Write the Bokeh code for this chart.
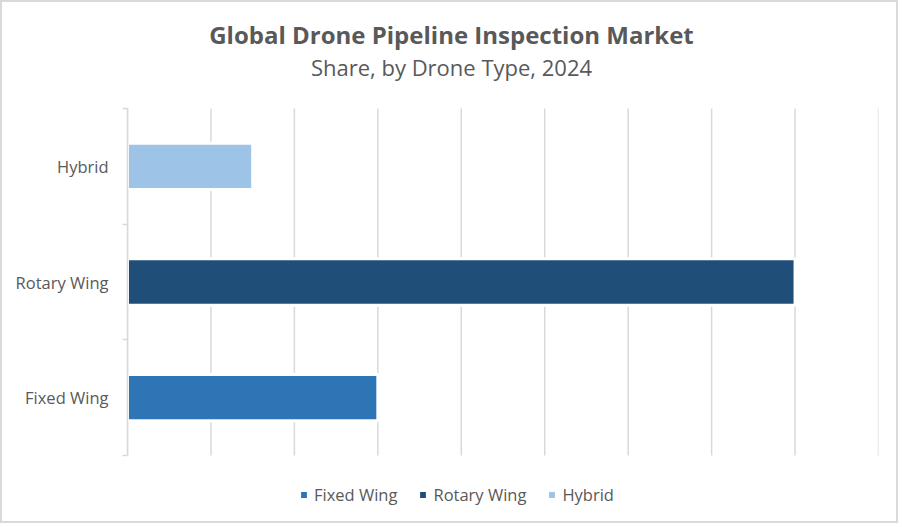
from bokeh.plotting import figure
from bokeh.models import Range1d, FixedTicker, Legend, LegendItem, Label
from bokeh.embed import file_html
from bokeh.resources import INLINE

# ---- data ----
categories = ["Fixed Wing", "Rotary Wing", "Hybrid"]
shares = [30, 80, 15]
bar_colors = ["#2E75B6", "#1F4E79", "#9DC3E6"]
x_grid_ticks = [0, 10, 20, 30, 40, 50, 60, 70, 80, 90]

title_text = "Global Drone Pipeline Inspection Market"
subtitle_text = "Share, by Drone Type, 2024"

FONT = "Open Sans"
TXT = "#595959"
GRID = "#d9d9d9"

positions = [i + 0.5 for i in range(len(categories))]
boundaries = [float(i) for i in range(len(categories) + 1)]

# layout (pixels of the drawing canvas; a 2px CSS border is added outside)
W, H = 898, 523
LEFT, RIGHT = 125, 22
CAT_TOP, CAT_H = 106, 347      # category area inside the canvas
n = len(categories)
px = n / CAT_H                  # data units per pixel
y_end = boundaries[-1] + CAT_TOP * px
y_start = boundaries[0] - (H - CAT_TOP - CAT_H) * px

p = figure(width=W, height=H, output_backend="svg", toolbar_location=None,
           x_range=Range1d(x_grid_ticks[0], x_grid_ticks[-1]),
           y_range=Range1d(y_start, y_end),
           min_border_left=LEFT, min_border_right=RIGHT,
           min_border_top=0, min_border_bottom=0)
p.styles = {"border": "2px solid #d9d9d9"}
p.outline_line_color = None
p.background_fill_color = "white"
p.border_fill_color = "white"

# titles, centred on the whole chart
cx = W / 2 - LEFT
p.add_layout(Label(x=cx, y=H - 32, x_units="screen", y_units="screen",
                   text=title_text, text_align="center",
                   text_baseline="alphabetic", text_font=FONT,
                   text_font_style="bold", text_font_size="24px",
                   text_color=TXT))
p.add_layout(Label(x=cx, y=H - 64, x_units="screen", y_units="screen",
                   text=subtitle_text, text_align="center",
                   text_baseline="alphabetic", text_font=FONT,
                   text_font_style="normal", text_font_size="22px",
                   text_color=TXT))

# axes
p.xaxis.visible = False
yax = p.yaxis[0]
yax.bounds = (boundaries[0], boundaries[-1])
yax.ticker = FixedTicker(ticks=positions, minor_ticks=boundaries)
yax.major_label_overrides = {pos: cat for pos, cat in zip(positions, categories)}
yax.axis_line_color = GRID
yax.axis_line_width = 1.5
yax.major_tick_line_color = None
yax.minor_tick_line_color = GRID
yax.minor_tick_line_width = 1.5
yax.minor_tick_out = 5
yax.minor_tick_in = 0
yax.major_label_standoff = 13
yax.major_label_text_font = FONT
yax.major_label_text_font_size = "16.5px"
yax.major_label_text_color = TXT

# vertical gridlines limited to the category area
p.xgrid.visible = False
p.ygrid.visible = False
p.segment(x0=x_grid_ticks, x1=x_grid_ticks,
          y0=[boundaries[0]] * len(x_grid_ticks),
          y1=[boundaries[-1]] * len(x_grid_ticks),
          line_color=GRID, line_width=1.5)

# bars
items = []
for pos, cat, val, col in zip(positions, categories, shares, bar_colors):
    r = p.hbar(y=[pos], left=0, right=[val], height=0.40,
               fill_color=col, line_color="white", line_width=3)
    items.append(LegendItem(label=cat, renderers=[r]))

legend = Legend(items=items, orientation="horizontal", location=(171, 19),
                glyph_width=11, glyph_height=11, label_standoff=5, spacing=20,
                padding=0, margin=0, border_line_color=None,
                background_fill_alpha=0, label_height=16,
                label_text_font=FONT, label_text_font_size="16.5px",
                label_text_color=TXT)
p.add_layout(legend)

open("out.html", "w").write(file_html(p, INLINE))
